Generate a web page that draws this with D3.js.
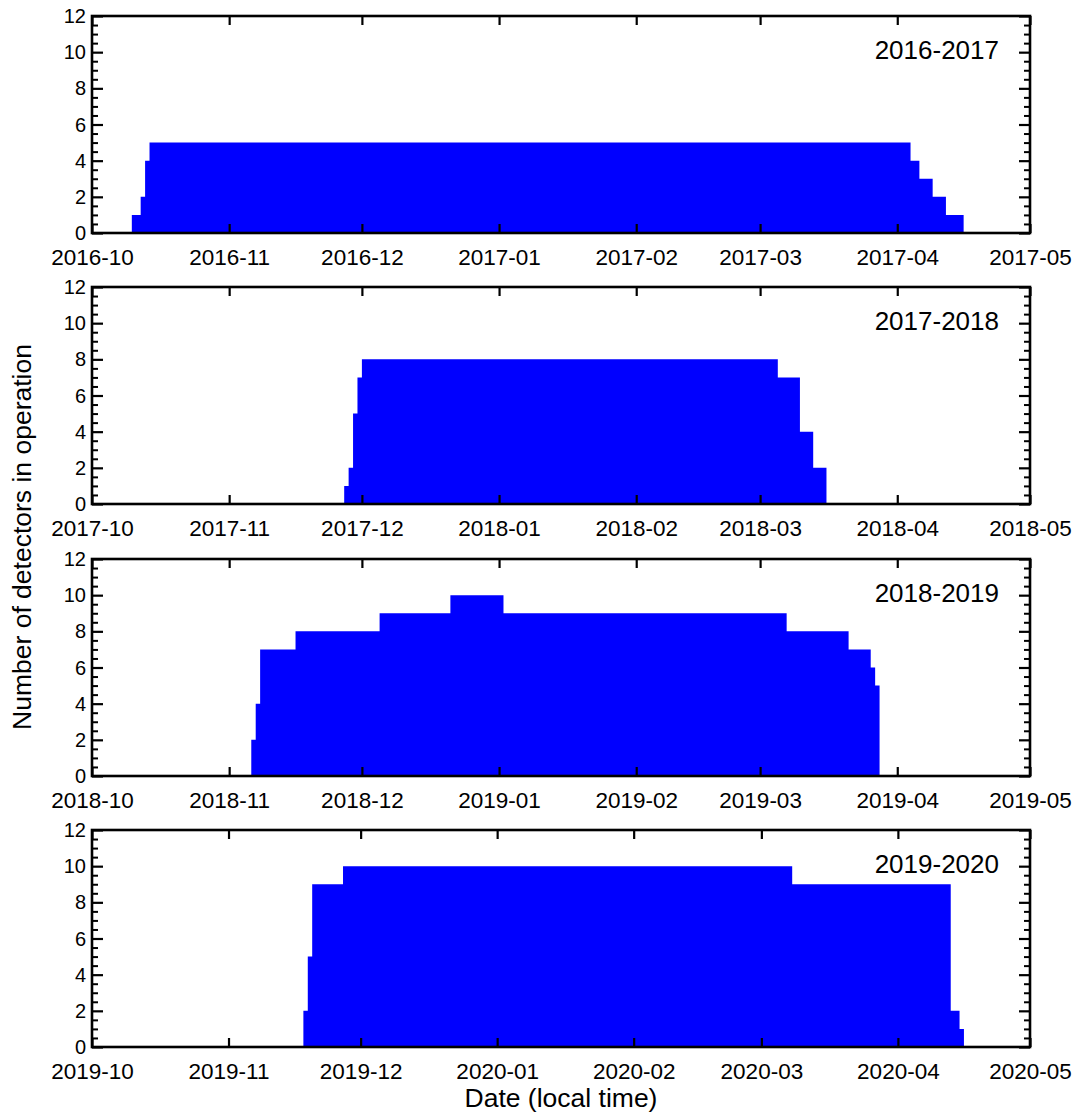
<!DOCTYPE html>
<html>
<head>
<meta charset="utf-8">
<script src="https://cdn.jsdelivr.net/npm/d3@7"></script>
<style>
  html, body { margin: 0; padding: 0; background: #fff; }
  svg { display: block; font-family: "Liberation Sans", Arial, Helvetica, sans-serif; }
</style>
</head>
<body>
<svg id="chart" width="1074" height="1114"></svg>
<script>
// Season labels and x-axis windows (Oct 1 to May 1)
const seasons = ["2016-2017", "2017-2018", "2018-2019", "2019-2020"];
const windowStart = ["2016-10-01", "2017-10-01", "2018-10-01", "2019-10-01"];
const windowEnd   = ["2017-05-01", "2018-05-01", "2019-05-01", "2020-05-01"];

// Dates on which the number of operating detectors changed, and the new count
const dates2016 = ["2016-10-10", "2016-10-12", "2016-10-13", "2016-10-14", "2017-04-04", "2017-04-06", "2017-04-09", "2017-04-12", "2017-04-16"];
const counts2016 = [1, 2, 4, 5, 4, 3, 2, 1, 0];

const dates2017 = ["2017-11-27", "2017-11-28", "2017-11-29", "2017-11-30", "2017-12-01", "2018-03-05", "2018-03-10", "2018-03-13", "2018-03-16"];
const counts2017 = [1, 2, 5, 7, 8, 7, 4, 2, 0];

const dates2018 = ["2018-11-06", "2018-11-07", "2018-11-08", "2018-11-16", "2018-12-05", "2018-12-21", "2019-01-02", "2019-03-07", "2019-03-21", "2019-03-26", "2019-03-27", "2019-03-28"];
const counts2018 = [2, 4, 7, 8, 9, 10, 9, 8, 7, 6, 5, 0];

const dates2019 = ["2019-11-18", "2019-11-19", "2019-11-20", "2019-11-27", "2020-03-08", "2020-04-13", "2020-04-15", "2020-04-16"];
const counts2019 = [2, 5, 9, 10, 9, 2, 1, 0];

const seasonDates = [dates2016, dates2017, dates2018, dates2019];
const seasonCounts = [counts2016, counts2017, counts2018, counts2019];

const yTicks = [0, 2, 4, 6, 8, 10, 12];

const parse = d3.utcParse("%Y-%m-%d");
const fmtMonth = d3.utcFormat("%Y-%m");

const svg = d3.select("#chart");
const left = 92, right = 1030;
const panelTops = [16, 287, 559, 830];
const panelH = 217;
const axisColor = "#000";

seasons.forEach((label, i) => {
  const top = panelTops[i];
  const g = svg.append("g").attr("transform", `translate(0,${top})`);

  const x = d3.scaleUtc()
    .domain([parse(windowStart[i]), parse(windowEnd[i])])
    .range([left, right]);
  const y = d3.scaleLinear().domain([0, 12]).range([panelH, 0]);

  // step series starting at zero at the window start
  const series = [{ date: parse(windowStart[i]), n: 0 }]
    .concat(seasonDates[i].map((d, k) => ({ date: parse(d), n: seasonCounts[i][k] })));
  series.push({ date: parse(windowEnd[i]), n: series[series.length - 1].n });

  const area = d3.area()
    .curve(d3.curveStepAfter)
    .x(d => x(d.date))
    .y0(y(0))
    .y1(d => y(d.n));

  g.append("path")
    .datum(series)
    .attr("fill", "#0000ff")
    .attr("d", area);

  const months = d3.utcMonth.range(parse(windowStart[i]), d3.utcDay.offset(parse(windowEnd[i]), 1));

  // bottom axis: inward ticks with month labels
  const xb = g.append("g").attr("transform", `translate(0,${panelH})`)
    .call(d3.axisBottom(x).tickValues(months).tickFormat(fmtMonth).tickSize(-9).tickPadding(0));
  xb.select(".domain").remove();
  xb.selectAll(".tick line").attr("stroke", axisColor).attr("stroke-width", 2.2);
  xb.selectAll(".tick text")
    .attr("y", 32).attr("dy", null)
    .attr("font-size", 22.5).attr("font-family", "Liberation Sans, Arial, sans-serif")
    .attr("fill", "#000");

  // top axis: inward ticks only
  const xt = g.append("g")
    .call(d3.axisTop(x).tickValues(months).tickFormat("").tickSize(-9));
  xt.select(".domain").remove();
  xt.selectAll(".tick line").attr("stroke", axisColor).attr("stroke-width", 2.2);

  // left axis: major ticks labelled, minor ticks every 0.5
  const minor = d3.range(0, 12.01, 0.5).filter(v => v % 2 !== 0);
  const yl = g.append("g").attr("transform", `translate(${left},0)`)
    .call(d3.axisLeft(y).tickValues(yTicks).tickSize(-11).tickPadding(6));
  yl.select(".domain").remove();
  yl.selectAll(".tick line").attr("stroke", axisColor).attr("stroke-width", 2.2);
  yl.selectAll(".tick text")
    .attr("x", -6).attr("dy", "0.33em")
    .attr("font-size", 20).attr("font-family", "Liberation Sans, Arial, sans-serif")
    .attr("fill", "#000");
  const ylm = g.append("g").attr("transform", `translate(${left},0)`)
    .call(d3.axisLeft(y).tickValues(minor).tickFormat("").tickSize(-6));
  ylm.select(".domain").remove();
  ylm.selectAll(".tick line").attr("stroke", axisColor).attr("stroke-width", 2);

  // right axis: mirrored ticks without labels
  const yr = g.append("g").attr("transform", `translate(${right},0)`)
    .call(d3.axisRight(y).tickValues(yTicks).tickFormat("").tickSize(-11));
  yr.select(".domain").remove();
  yr.selectAll(".tick line").attr("stroke", axisColor).attr("stroke-width", 2.2);
  const yrm = g.append("g").attr("transform", `translate(${right},0)`)
    .call(d3.axisRight(y).tickValues(minor).tickFormat("").tickSize(-6));
  yrm.select(".domain").remove();
  yrm.selectAll(".tick line").attr("stroke", axisColor).attr("stroke-width", 2);

  // frame
  g.append("rect")
    .attr("x", left).attr("y", 0)
    .attr("width", right - left).attr("height", panelH)
    .attr("fill", "none").attr("stroke", axisColor).attr("stroke-width", 2.6);

  // season label
  g.append("text")
    .attr("x", 999).attr("y", 43)
    .attr("text-anchor", "end")
    .attr("font-size", 26)
    .attr("fill", "#000")
    .text(label);
});

// axis titles
svg.append("text")
  .attr("transform", "translate(31,537) rotate(-90)")
  .attr("text-anchor", "middle")
  .attr("font-size", 26.5)
  .attr("fill", "#000")
  .text("Number of detectors in operation");

svg.append("text")
  .attr("x", 561).attr("y", 1107)
  .attr("text-anchor", "middle")
  .attr("font-size", 26.5)
  .attr("fill", "#000")
  .text("Date (local time)");
</script>
</body>
</html>
